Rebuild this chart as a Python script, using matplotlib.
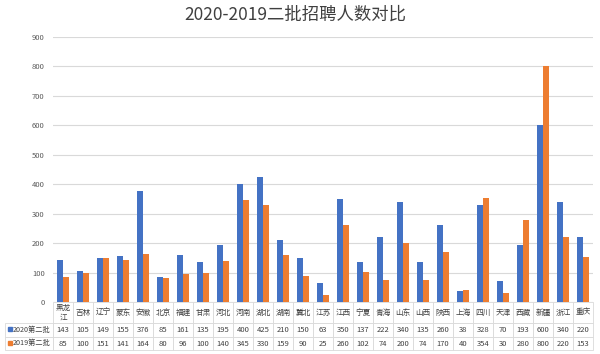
import matplotlib
matplotlib.use('Agg')
import matplotlib.pyplot as plt
from matplotlib.patches import Rectangle
import numpy as np

plt.rcParams['font.family'] = ['Noto Sans CJK SC', 'DejaVu Sans']

cats = ['黑龙\n江', '吉林', '辽宁', '蒙东', '安徽', '北京', '福建', '甘肃', '河北', '河南',
        '湖北', '湖南', '冀北', '江苏', '江西', '宁夏', '青海', '山东', '山西', '陕西',
        '上海', '四川', '天津', '西藏', '新疆', '浙江', '重庆']
v2020 = [143, 105, 149, 155, 376, 85, 161, 135, 195, 400, 425, 210, 150, 63, 350,
         137, 222, 340, 135, 260, 38, 328, 70, 193, 600, 340, 220]
v2019 = [85, 100, 151, 141, 164, 80, 96, 100, 140, 345, 330, 159, 90, 25, 260,
         102, 74, 200, 74, 170, 40, 354, 30, 280, 800, 220, 153]
names = ['2020第二批', '2019第二批']
colors = ['#4472C4', '#ED7D31']

W, H = 600, 354
fig = plt.figure(figsize=(6, 3.54), dpi=100)
ax = fig.add_axes([53 / W, 1 - 302 / H, 540 / W, 265 / H])

n = len(cats)
x = np.arange(n)
bw = 0.3
ax.bar(x - bw / 2, v2020, bw, color=colors[0], zorder=3)
ax.bar(x + bw / 2, v2019, bw, color=colors[1], zorder=3)

ax.set_xlim(-0.5, n - 0.5)
ax.set_ylim(0, 900)
ax.set_yticks(range(0, 901, 100))
ax.tick_params(axis='y', length=0, labelsize=5.5, labelcolor='#595959', pad=6)
ax.set_xticks([])
ax.grid(axis='y', color='#d9d9d9', linewidth=0.8, zorder=0)
for s in ax.spines.values():
    s.set_visible(False)

fig.suptitle('2020-2019二批招聘人数对比', x=0.493, y=1 - 6 / H, va='top',
             fontsize=12.5, color='#404040')

# data table under the plot
cell_text = [[''] + cats,
             [names[0]] + [str(v) for v in v2020],
             [names[1]] + [str(v) for v in v2019]]
tab = ax.table(cellText=cell_text, cellLoc='center',
               bbox=[-48 / 540, -48 / 265, 588 / 540, 48 / 265])
tab.auto_set_font_size(False)
row_h = [21, 14, 13]
for (r, c), cell in tab.get_celld().items():
    cell.set_height(row_h[r])
    cell.set_width(48 if c == 0 else 20)
    cell.set_edgecolor('#d9d9d9')
    cell.set_linewidth(0.6)
    t = cell.get_text()
    t.set_fontsize(5.5)
    t.set_color('#404040')
    if c == 0:
        t.set_ha('left')
        t.set_fontsize(5.2)
        cell.PAD = 0.17
    if r == 0 and c == 0:
        cell.set_edgecolor('none')

for i, col in enumerate(colors):
    yy = 327 + i * 14
    fig.patches.append(Rectangle((8 / W, 1 - (yy + 4) / H), 4 / W, 4 / H,
                                 transform=fig.transFigure, color=col))

fig.savefig('out.png', dpi=100)
